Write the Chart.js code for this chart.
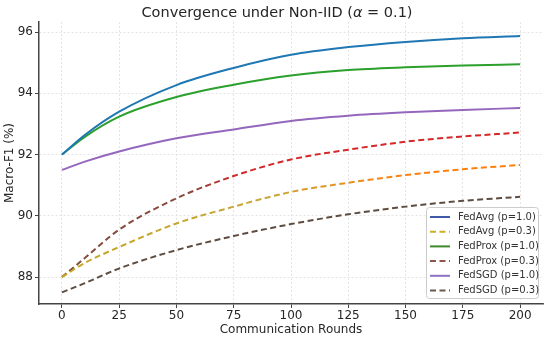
<!DOCTYPE html>
<html>
<head>
<meta charset="utf-8">
<script src="https://cdn.jsdelivr.net/npm/chart.js@4.4.1/dist/chart.umd.min.js"></script>
<style>
    html, body { margin: 0; padding: 0; background: #fff; }
    #wrap { width: 550px; height: 338px; }
</style>
</head>
<body>
<div id="wrap"><canvas id="grafico"></canvas></div>
<script>
// Valores (rodadas x Macro-F1)
const rounds = [0, 10, 25, 50, 75, 100, 125, 150, 175, 200];
const fedAvgFull = [92.0, 92.64, 93.40, 94.27, 94.83, 95.26, 95.51, 95.68, 95.80, 95.87];
const fedAvgPart = [88.0, 88.46, 88.98, 89.75, 90.30, 90.78, 91.08, 91.33, 91.52, 91.66];
const fedProxFull = [92.0, 92.58, 93.24, 93.88, 94.28, 94.58, 94.76, 94.85, 94.91, 94.95];
const fedProxPart = [88.0, 88.62, 89.55, 90.57, 91.30, 91.84, 92.16, 92.42, 92.59, 92.72];
const fedSgdFull = [91.5, 91.77, 92.10, 92.53, 92.82, 93.10, 93.27, 93.38, 93.46, 93.52];
const fedSgdPart = [87.5, 87.80, 88.28, 88.88, 89.34, 89.73, 90.05, 90.30, 90.49, 90.62];

const seriesLabels = ['FedAvg (p=1.0)', 'FedAvg (p=0.3)', 'FedProx (p=1.0)', 'FedProx (p=0.3)', 'FedSGD (p=1.0)', 'FedSGD (p=0.3)'];
const xTicks = [0, 25, 50, 75, 100, 125, 150, 175, 200];
const yTicks = [88, 90, 92, 94, 96];

const FONTE = '"DejaVu Sans", sans-serif';

// gradiente horizontal para as linhas tracejadas que mudam de cor
function gradiente(paradas) {
    return function(ctx) {
        const chart = ctx.chart;
        const area = chart.chartArea;
        if (!area) return paradas[0][1];
        const x = chart.scales.x;
        const g = chart.ctx.createLinearGradient(x.getPixelForValue(0), 0, x.getPixelForValue(200), 0);
        paradas.forEach(p => g.addColorStop(p[0], p[1]));
        return g;
    };
}

const serie = (label, data, cor, tracejada) => ({
    label: label,
    data: data.map((v, i) => ({ x: rounds[i], y: v })),
    borderColor: cor,
    borderWidth: 2,
    borderDash: tracejada ? [6, 3.5] : [],
    pointRadius: 0,
    fill: false,
    cubicInterpolationMode: 'monotone'
});

const datasets = [
    serie(seriesLabels[0], fedAvgFull, '#1f77b4', false),
    serie(seriesLabels[1], fedAvgPart, gradiente([[0, '#c6a526'], [0.45, '#c9a63a'], [0.75, '#ff7f0e'], [1, '#ff7f0e']]), true),
    serie(seriesLabels[2], fedProxFull, '#2ca02c', false),
    serie(seriesLabels[3], fedProxPart, gradiente([[0, '#7d4e3c'], [0.28, '#8c4a3e'], [0.4, '#d62728'], [1, '#d62728']]), true),
    serie(seriesLabels[4], fedSgdFull, '#9467bd', false),
    serie(seriesLabels[5], fedSgdPart, '#5e4c40', true)
];

// cores usadas na legenda
const legendColors = ['#3f5ba8', '#c9b21e', '#3c8a28', '#8c564b', '#8f72c4', '#6b5a4e'];

// título com alfa em itálico
const pluginTitulo = {
    id: 'titulo',
    afterDraw(chart) {
        const ctx = chart.ctx;
        const cx = 277;
        const partes = [
            ['Convergence under Non-IID (', 'normal'],
            ['α', 'italic'],
            [' = 0.1)', 'normal']
        ];
        ctx.save();
        ctx.fillStyle = '#262626';
        ctx.textBaseline = 'middle';
        let total = 0;
        partes.forEach(p => { ctx.font = p[1] + ' 14.5px ' + FONTE; total += ctx.measureText(p[0]).width; });
        let x = cx - total / 2;
        partes.forEach(p => {
            ctx.font = p[1] + ' 14.5px ' + FONTE;
            ctx.fillText(p[0], x, 13);
            x += ctx.measureText(p[0]).width;
        });
        ctx.restore();
    }
};

// legenda desenhada no canto inferior direito
const pluginLegenda = {
    id: 'legenda',
    afterDraw(chart) {
        const ctx = chart.ctx;
        const bx = 426, by = 207, bw = 112, bh = 91;
        ctx.save();
        ctx.fillStyle = 'rgba(255,255,255,0.85)';
        ctx.strokeStyle = '#cccccc';
        ctx.lineWidth = 1;
        ctx.beginPath();
        ctx.roundRect(bx + 0.5, by + 0.5, bw, bh, 3);
        ctx.fill();
        ctx.stroke();
        ctx.font = '10px ' + FONTE;
        ctx.textBaseline = 'middle';
        chart.data.datasets.forEach((ds, i) => {
            const y = by + 10 + i * 14.7;
            ctx.strokeStyle = legendColors[i];
            ctx.lineWidth = 2;
            ctx.setLineDash(ds.borderDash);
            ctx.beginPath();
            ctx.moveTo(430, y);
            ctx.lineTo(450, y);
            ctx.stroke();
            ctx.setLineDash([]);
            ctx.fillStyle = '#333';
            ctx.fillText(ds.label, 458, y);
        });
        ctx.restore();
    }
};

const ctxGrafico = document.getElementById('grafico').getContext('2d');
new Chart(ctxGrafico, {
    type: 'line',
    data: { datasets: datasets },
    options: {
        responsive: true,
        maintainAspectRatio: false,
        animation: false,
        layout: { padding: { top: 22, right: 7, left: 0, bottom: 0 } },
        plugins: { legend: { display: false }, title: { display: false }, tooltip: { enabled: false } },
        scales: {
            x: {
                type: 'linear',
                min: -10,
                max: 210,
                afterBuildTicks: s => { s.ticks = xTicks.map(v => ({ value: v })); },
                afterFit: s => { s.height = 34; },
                ticks: { color: '#262626', font: { family: FONTE, size: 12 }, padding: 1, maxRotation: 0 },
                grid: { color: '#dddddd', lineWidth: 0.8, tickColor: '#444', tickLength: 4, tickWidth: 1 },
                border: { display: true, color: '#444', width: 1.5, dash: [2, 2] },
                title: { display: true, text: 'Communication Rounds', color: '#262626', font: { family: FONTE, size: 12 }, padding: { top: 0, bottom: 1 } }
            },
            y: {
                type: 'linear',
                min: 87.12,
                max: 96.33,
                afterBuildTicks: s => { s.ticks = yTicks.map(v => ({ value: v })); },
                afterFit: s => { s.width = 39; },
                ticks: { color: '#262626', font: { family: FONTE, size: 12 }, padding: 2 },
                grid: { color: '#dddddd', lineWidth: 0.8, tickColor: '#444', tickLength: 4, tickWidth: 1 },
                border: { display: true, color: '#444', width: 1.5, dash: [2, 2] },
                title: { display: true, text: 'Macro-F1 (%)', color: '#262626', font: { family: FONTE, size: 12 }, padding: { top: 3, bottom: 0 } }
            }
        }
    },
    plugins: [pluginTitulo, pluginLegenda]
});
</script>
</body>
</html>
